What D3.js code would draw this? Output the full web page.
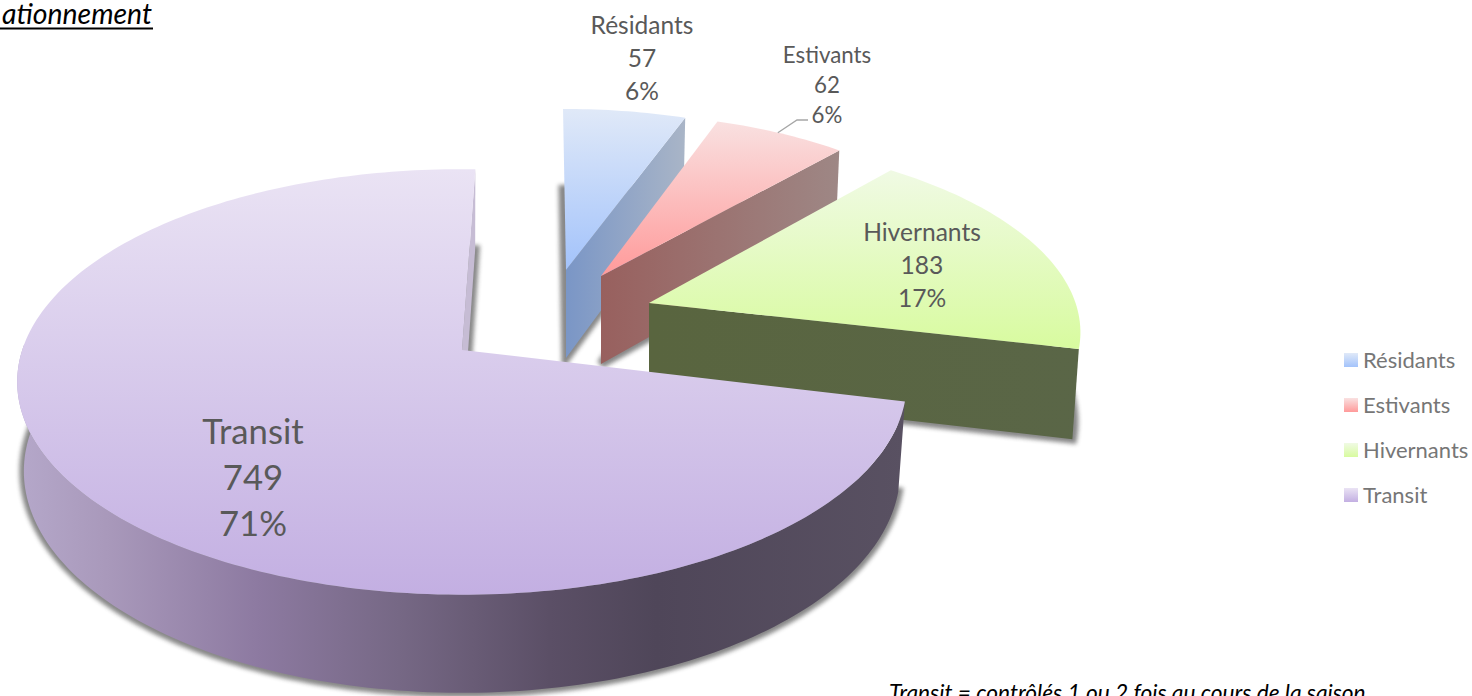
<!DOCTYPE html>
<html>
<head>
<meta charset="utf-8">
<script src="https://d3js.org/d3.v7.min.js"></script>
<style>
  html, body { margin: 0; padding: 0; background: #fff; overflow: hidden; }
  text { font-family: Lato, Carlito, "Open Sans", sans-serif; }
</style>
</head>
<body>
<script>
const window_width = 1472;
const window_height = 696;

// Values
const categories = ['Résidants', 'Estivants', 'Hivernants', 'Transit'];
const counts = [57, 62, 183, 749];
const percents = ['6%', '6%', '17%', '71%'];

// Exploded slices: apex on screen, size factors and small angle corrections (degrees)
const apexX = [566, 601, 649, 462];
const apexY = [270, 276, 303, 350];
const sliceScaleX = [0.89, 0.9, 0.965, 0.995];
const sliceScaleY = [0.89, 0.9, 0.92, 1];
const twistStart = [-0.5, 0, -1.5, 0.4];
const twistEnd = [0.7, 1, 0, 2];

// Label layout
const labelX = [642, 827, 922, 253];
const labelY = [25, 55, 232, 432];
const labelSize = [24.5, 22.3, 24.6, 34.7];
const labelPitch = [33, 30, 33, 46];

// Colours: top surface (far, near), cut face (left, right)
const topFar = ['#e0e9f8', '#f9e1e1', '#f0fae4', '#eae3f4'];
const topNear = ['#a3c3fb', '#ff9a9a', '#d8fb9f', '#c3afe2'];
const cutLeft = ['#7a96c6', '#98605e', '#59653f', '#c6bcd4'];
const cutRight = ['#a9b5c7', '#9e8785', '#5a6647', '#c6bcd4'];
const wallStops = [
  [0, '#b5a8ca'], [0.1, '#a999bb'], [0.27, '#8d7aa1'], [0.43, '#766885'],
  [0.6, '#5b4f66'], [0.72, '#4f4659'], [1, '#595162']
];

// Disc projection with a little perspective
const persp = 0.15;
const depth = 88;
const scaleU = d3.scaleLinear().domain([-1, 1]).range([-442, 442]);
const scaleV = d3.scaleLinear().domain([-1, 1]).range([-208, 208]);

function project(a, radius, i, low) {
  const u = radius * Math.sin(a);
  const v = -radius * Math.cos(a);
  const w = 1 / (1 - persp * v);
  let x = scaleU(u) * w * sliceScaleX[i];
  let y = scaleV(v) * w * sliceScaleY[i];
  if (low) {
    x = x * 0.985;
    y = y + depth * (1 + (w - 1) * 0.65);
  }
  return [apexX[i] + x, apexY[i] + y];
}

const pie = d3.pie().sort(null).value(d => d);
const arcs = pie(counts);
const rad = Math.PI / 180;

function arcAngles(d, i) {
  const a0 = d.startAngle + twistStart[i] * rad;
  const a1 = d.endAngle + twistEnd[i] * rad;
  const n = Math.max(2, Math.ceil((a1 - a0) / 0.02));
  return d3.range(n + 1).map(k => a0 + (a1 - a0) * k / n);
}

const line = d3.line();

const svg = d3.select('body').append('svg')
  .attr('width', window_width)
  .attr('height', window_height)
  .style('display', 'block');

const defs = svg.append('defs');

defs.append('filter').attr('id', 'blur')
  .attr('x', '-10%').attr('y', '-10%').attr('width', '120%').attr('height', '120%')
  .append('feGaussianBlur').attr('stdDeviation', 2);

categories.forEach((c, i) => {
  const top = defs.append('linearGradient').attr('id', 'top' + i)
    .attr('x1', 0).attr('y1', 0).attr('x2', 0).attr('y2', 1);
  top.append('stop').attr('offset', 0).attr('stop-color', topFar[i]);
  top.append('stop').attr('offset', 1).attr('stop-color', topNear[i]);

  const cut = defs.append('linearGradient').attr('id', 'cut' + i)
    .attr('x1', 0).attr('y1', 0).attr('x2', 1).attr('y2', 0);
  cut.append('stop').attr('offset', 0).attr('stop-color', cutLeft[i]);
  cut.append('stop').attr('offset', 1).attr('stop-color', cutRight[i]);
});

const wallGrad = defs.append('linearGradient').attr('id', 'wall')
  .attr('x1', 0).attr('y1', 0).attr('x2', 1).attr('y2', 0);
wallStops.forEach(s => wallGrad.append('stop').attr('offset', s[0]).attr('stop-color', s[1]));

// Slices, back to front
const slices = svg.selectAll('g.slice')
  .data(arcs)
  .enter().append('g')
  .attr('class', 'slice');

slices.each(function(d, i) {
  const g = d3.select(this);
  const angles = arcAngles(d, i);
  const upper = angles.map(a => project(a, 1, i, false));
  const lower = angles.map(a => project(a, 1, i, true));
  const apexTop = [apexX[i], apexY[i]];
  const apexLow = project(0, 0, i, true);
  const last = upper.length - 1;

  // shadow thrown by the underside of the slice
  g.append('path')
    .attr('d', line([apexLow].concat(lower)) + 'Z')
    .attr('fill', '#4a4a4a')
    .attr('stroke', '#4a4a4a')
    .attr('stroke-width', 9)
    .attr('stroke-linejoin', 'miter')
    .attr('opacity', 0.65)
    .attr('filter', 'url(#blur)');

  // only the Transit slice shows its outer wall, front half of the disc
  if (i === 3) {
    const front = angles.map((a, k) => k).filter(k => Math.cos(angles[k]) < 0.05);
    const wallUp = front.map(k => upper[k]);
    const wallLow = front.map(k => lower[k]).reverse();
    g.append('path')
      .attr('d', line(wallUp.concat(wallLow)) + 'Z')
      .attr('fill', 'url(#wall)');
  }

  // cut face on the clockwise end of the slice
  g.append('path')
    .attr('d', line([apexTop, upper[last], lower[last], apexLow]) + 'Z')
    .attr('fill', 'url(#cut' + i + ')');

  // top surface
  g.append('path')
    .attr('d', line([apexTop].concat(upper)) + 'Z')
    .attr('fill', 'url(#top' + i + ')');
});

// Leader line of the Estivants label
const est = arcs[1];
const leaderStart = project((est.startAngle + est.endAngle) / 2, 1, 1, false);
svg.append('path')
  .attr('d', line([leaderStart, [797, 120], [808, 120]]))
  .attr('fill', 'none')
  .attr('stroke', '#a6a6a6')
  .attr('stroke-width', 1.3);

// Data labels
categories.forEach((c, i) => {
  const rows = [c, String(counts[i]), percents[i]];
  svg.append('g').selectAll('text')
    .data(rows)
    .enter().append('text')
    .attr('x', labelX[i])
    .attr('y', (r, k) => labelY[i] + k * labelPitch[i])
    .attr('dy', '0.35em')
    .attr('text-anchor', 'middle')
    .attr('font-size', labelSize[i])
    .attr('fill', '#595959')
    .text(r => r);
});

// Legend
const legendY = d3.scalePoint().domain(categories).range([360, 495]);
const legend = svg.selectAll('g.legend')
  .data(categories)
  .enter().append('g')
  .attr('class', 'legend')
  .attr('transform', d => 'translate(1344,' + legendY(d) + ')');
legend.append('rect')
  .attr('x', 0).attr('y', -7).attr('width', 14).attr('height', 14)
  .attr('fill', (d, i) => 'url(#top' + i + ')');
legend.append('text')
  .attr('x', 19)
  .attr('dy', '0.35em')
  .attr('font-size', 22)
  .attr('fill', '#767676')
  .text(d => d);

// Page text around the chart, cut by the frame of the picture
svg.append('text')
  .attr('x', 2).attr('y', 23.5)
  .attr('font-size', 28.4)
  .attr('font-style', 'italic')
  .attr('fill', '#000')
  .text('ationnement');
svg.append('line')
  .attr('x1', 0).attr('x2', 153).attr('y1', 28.5).attr('y2', 28.5)
  .attr('stroke', '#000').attr('stroke-width', 2);
svg.append('text')
  .attr('x', 889).attr('y', 701)
  .attr('font-size', 22.7)
  .attr('font-style', 'italic')
  .attr('fill', '#000')
  .text('Transit = contrôlés 1 ou 2 fois au cours de la saison');
</script>
</body>
</html>
